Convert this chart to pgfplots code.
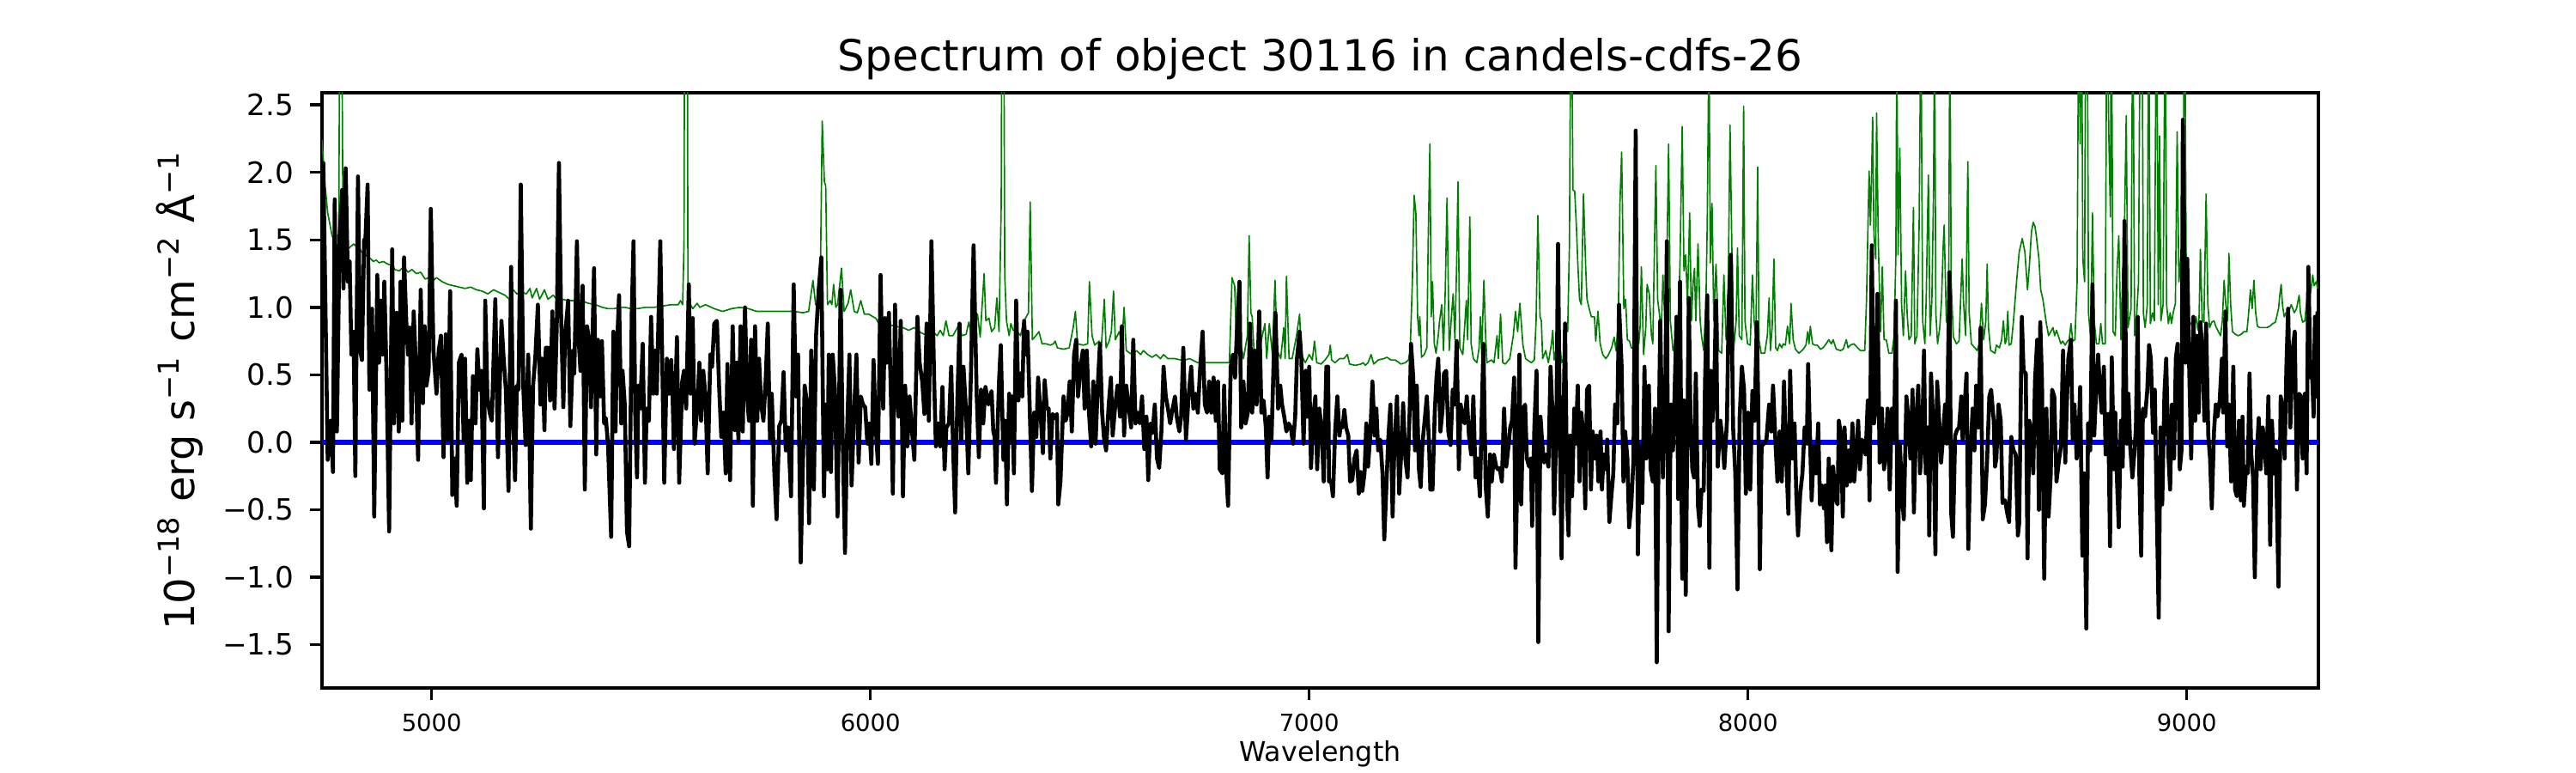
\documentclass[border=0pt]{standalone}
\usepackage{fontspec}
\setmainfont{DejaVu Sans}
\usepackage{pgfplots}
\pgfplotsset{compat=1.18}
\definecolor{mplgreen}{HTML}{008000}
\definecolor{mplblue}{HTML}{0000FF}
\begin{document}
\begin{tikzpicture}
\path[use as bounding box] (0,0) rectangle (720pt,216pt);
\begin{axis}[
  at={(90pt,23.76pt)}, anchor=south west,
  width=558pt, height=166.32pt, scale only axis,
  xmin=4750, xmax=9300, ymin=-1.82, ymax=2.59,
  axis line style={line width=0.8pt},
  tick align=outside, xtick pos=left, ytick pos=left,
  major tick length=3.4pt,
  every tick/.style={line width=0.8pt, black},
  xtick={5000,6000,7000,8000,9000},
  xticklabels={5000,6000,7000,8000,9000},
  ytick={-1.5,-1,-0.5,0,0.5,1,1.5,2,2.5},
  yticklabels={−1.5,−1.0,−0.5,0.0,0.5,1.0,1.5,2.0,2.5},
  xticklabel style={font=\fontsize{6.6}{7}\selectfont, anchor=base, inner sep=0pt, yshift=-8.8pt},
  yticklabel style={font=\fontsize{8.2}{9}\selectfont, anchor=east, inner sep=0pt, xshift=-4.3pt},
  minor tick num=0,
]
\addplot[mplgreen, line width=0.4pt, line join=round] coordinates {
(4750,2.24)(4757,1.90)(4763,1.70)(4773,1.53)(4783,1.46)(4788,1.47)(4791,3.5)(4794,3.8)(4798,1.47)(4802,1.44)(4812,1.44)(4822,1.47)(4832,1.44)(4841,1.41)(4848,1.39)(4861,1.36)(4867,1.34)(4874,1.35)(4880,1.33)(4890,1.34)(4900,1.32)(4910,1.31)(4916,1.28)(4926,1.27)(4936,1.30)(4946,1.26)(4955,1.28)(4965,1.25)(4975,1.26)(4985,1.21)(4995,1.22)(5004,1.20)(5011,1.22)(5024,1.19)(5037,1.17)(5050,1.16)(5063,1.15)(5076,1.14)(5089,1.15)(5102,1.13)(5115,1.12)(5128,1.10)(5141,1.13)(5154,1.11)(5167,1.09)(5177,1.06)(5186,1.13)(5194,1.10)(5207,1.11)(5216,1.10)(5224,1.14)(5229,1.07)(5239,1.14)(5246,1.06)(5257,1.13)(5265,1.06)(5277,1.09)(5285,1.06)(5298,1.06)(5311,1.05)(5324,1.05)(5340,1.05)(5357,1.03)(5373,1.02)(5389,1.00)(5402,0.99)(5415,0.99)(5428,1.00)(5441,1.00)(5454,0.99)(5468,0.99)(5487,1.00)(5507,1.00)
(5526,1.01)(5546,1.02)(5562,1.02)(5567,1.05)(5572,1.02)(5575,1.47)(5577,4.0)(5582,4.0)(5584,1.19)(5588,1.03)(5595,0.99)(5605,1.03)(5611,1.00)(5624,1.02)(5644,0.99)(5663,0.97)(5683,0.99)(5702,1.00)(5722,0.99)(5741,0.97)(5774,0.97)(5807,0.97)(5826,0.97)(5846,0.96)(5859,0.97)(5869,1.20)(5875,1.02)(5885,0.99)(5890,2.38)(5895,1.93)(5898,1.90)(5902,1.02)(5908,1.05)(5912,1.02)(5916,1.17)(5921,1.00)(5925,1.02)(5934,1.29)(5940,0.97)(5949,1.03)(5955,1.13)(5963,0.97)(5970,0.96)(5978,1.05)(5986,0.95)(5996,0.95)(6006,0.93)(6012,0.92)(6019,0.88)(6035,0.88)(6055,0.86)(6074,0.85)(6087,0.83)(6100,0.85)(6110,0.82)(6123,0.80)(6139,0.83)(6152,0.79)(6159,0.83)(6166,0.79)(6172,0.90)(6179,0.79)(6188,0.79)(6203,0.88)(6208,0.79)(6218,0.80)(6224,0.89)(6231,0.78)(6237,0.83)(6244,0.95)(6250,0.78)(6259,1.25)(6263,0.90)(6270,0.92)
(6276,0.82)(6283,0.85)(6288,1.07)(6293,0.82)(6298,1.76)(6300,4.0)(6303,4.0)(6306,1.24)(6310,0.90)(6316,0.79)(6320,0.88)(6325,0.83)(6332,0.83)(6342,0.79)(6348,0.88)(6355,0.93)(6360,0.96)(6364,1.78)(6369,0.76)(6377,0.79)(6384,0.82)(6391,0.73)(6400,0.73)(6410,0.72)(6417,0.73)(6421,0.75)(6426,0.70)(6440,0.69)(6453,0.70)(6462,0.85)(6467,0.97)(6472,0.73)(6485,0.72)(6495,0.73)(6499,1.19)(6505,0.79)(6511,0.72)(6521,0.75)(6526,0.70)(6533,1.06)(6537,0.70)(6544,0.75)(6549,0.82)(6554,1.12)(6558,0.76)(6567,0.82)(6573,0.73)(6578,1.00)(6583,0.68)(6596,0.65)(6606,0.68)(6616,0.65)(6622,0.68)(6632,0.65)(6642,0.63)(6651,0.65)(6661,0.62)(6668,0.65)(6678,0.62)(6694,0.62)(6707,0.61)(6717,0.61)(6727,0.62)(6746,0.59)(6772,0.59)(6792,0.59)(6818,0.59)(6824,1.22)(6830,1.16)(6834,0.76)(6841,0.79)(6850,0.62)(6859,0.79)(6863,1.53)(6867,0.96)(6870,0.93)(6875,0.62)(6883,0.65)(6893,0.79)(6899,0.88)(6903,0.62)(6909,0.88)(6916,0.65)(6922,1.20)(6927,0.68)(6935,0.62)(6942,0.85)(6945,0.62)(6948,1.23)(6954,0.62)(6961,0.62)(6971,0.79)(6978,0.95)(6982,0.65)(6991,0.59)(7000,0.65)(7007,0.61)(7012,0.75)(7017,0.59)(7027,0.58)(7036,0.61)
(7045,0.65)(7048,0.72)(7051,0.61)(7059,0.59)(7069,0.62)(7079,0.62)(7087,0.65)(7092,0.58)(7105,0.57)(7118,0.58)(7123,0.59)(7128,0.57)(7134,0.59)(7141,0.65)(7147,0.58)(7157,0.61)(7170,0.62)(7177,0.63)(7186,0.61)(7196,0.61)(7209,0.58)(7219,0.59)(7226,0.61)(7230,0.68)(7235,1.19)(7239,1.83)(7243,1.70)(7247,0.93)(7250,0.79)(7252,0.93)(7256,0.63)(7262,0.65)(7268,0.70)(7271,1.47)(7275,2.21)(7278,0.93)(7281,1.19)(7285,0.73)(7289,0.66)(7294,0.79)(7297,0.90)(7302,1.02)(7306,0.68)(7310,1.13)(7314,1.81)(7319,0.68)(7324,0.93)(7328,1.10)(7332,0.76)(7336,1.33)(7339,1.93)(7343,0.70)(7350,0.65)(7354,0.85)(7358,1.05)(7361,0.76)(7366,1.67)(7369,0.73)(7374,0.62)(7382,0.59)(7387,0.70)(7390,0.93)(7393,0.65)(7398,1.20)(7402,0.79)(7405,0.59)(7415,0.61)(7421,0.59)(7428,0.79)(7431,0.62)(7436,0.95)(7441,0.59)(7447,0.58)(7457,0.62)(7465,0.79)(7470,0.97)(7475,0.82)(7480,1.03)(7487,0.72)(7493,0.62)(7506,0.59)(7513,0.61)(7517,0.90)(7521,1.68)(7526,0.93)(7529,0.90)(7532,0.62)(7539,0.68)(7545,0.59)(7552,0.73)(7555,0.83)(7558,0.61)(7565,0.73)(7569,0.80)(7575,0.59)(7580,0.62)(7584,0.89)(7589,0.82)(7593,1.47)(7596,3.2)(7598,3.2)(7601,1.87)(7605,1.86)(7609,1.59)(7612,1.33)(7616,1.06)(7620,1.02)(7625,1.84)(7630,1.30)(7633,1.06)(7638,0.99)(7643,0.93)(7650,0.93)(7653,0.75)(7658,0.97)(7663,0.73)(7669,0.65)(7676,0.62)(7682,0.65)(7689,0.70)(7695,0.78)(7699,0.68)(7704,0.85)(7708,1.76)(7712,2.15)(7717,0.99)(7721,1.06)(7725,0.76)(7730,0.75)(7734,0.70)(7739,0.70)(7744,1.05)(7751,0.73)(7754,0.85)(7757,1.30)(7762,0.65)(7767,0.85)(7770,1.17)(7775,1.10)(7780,0.79)(7783,0.73)(7790,2.05)(7794,1.06)(7800,0.90)
(7803,0.90)(7806,1.24)(7811,0.85)(7815,1.33)(7819,2.21)(7823,0.90)(7829,0.68)(7836,0.76)(7841,0.90)(7845,1.33)(7850,2.34)(7854,1.27)(7858,1.39)(7862,1.02)(7867,1.70)(7871,0.90)(7875,1.19)(7878,1.29)(7881,0.90)(7886,1.47)(7891,0.90)(7894,0.79)(7899,0.68)(7904,1.02)(7907,1.61)(7911,3.0)(7914,1.33)(7918,1.77)(7922,0.90)(7927,1.32)(7930,1.05)(7933,0.68)(7940,0.66)(7945,1.24)(7950,0.76)(7954,0.90)(7959,2.35)(7963,1.47)(7967,0.68)(7973,0.90)(7976,1.44)(7980,0.79)(7986,0.76)(7990,2.49)(7993,0.90)(7999,0.73)(8005,0.72)(8010,1.24)(8014,0.90)(8018,0.78)(8022,2.04)(8025,0.76)(8030,0.66)(8038,0.66)(8044,0.79)(8048,1.07)(8051,0.68)(8055,0.85)(8059,1.36)(8063,0.70)(8067,0.68)(8072,0.73)(8077,0.70)(8080,0.73)(8085,0.72)(8090,0.86)(8095,0.73)(8098,1.03)(8103,0.76)(8108,0.69)(8116,0.66)(8126,0.69)(8132,0.72)(8136,0.82)(8139,0.73)(8142,0.86)(8147,0.73)(8152,0.72)(8158,0.72)(8165,0.69)(8171,0.70)(8178,0.73)(8184,0.76)(8190,0.73)(8194,0.76)(8201,0.69)(8211,0.68)(8217,0.69)(8224,0.76)(8228,0.70)(8233,0.72)(8241,0.73)(8250,0.70)(8256,0.68)(8266,0.68)(8270,1.05)(8274,1.70)(8276,2.01)(8279,1.61)(8282,2.04)(8284,2.41)(8287,1.53)(8291,1.36)(8293,2.44)(8297,1.47)(8302,0.82)(8306,1.30)(8310,0.76)(8315,0.76)(8321,0.66)(8328,0.66)(8333,0.79)(8337,1.39)(8339,3.0)(8342,1.39)(8346,2.18)(8350,1.02)(8354,0.79)(8359,1.27)(8363,0.93)(8367,0.76)(8372,0.79)(8377,1.74)(8380,0.73)(8385,0.79)(8390,1.61)(8394,3.2)(8398,0.90)(8403,0.73)(8406,1.05)(8411,1.98)(8415,0.79)(8419,1.05)(8423,1.90)(8425,3.2)(8428,0.96)(8432,0.73)(8437,0.85)(8441,1.05)(8445,1.47)(8447,1.61)(8452,0.90)(8457,0.85)(8460,3.2)(8463,1.19)(8468,0.78)(8475,0.73)(8481,0.75)(8488,1.36)(8491,1.05)(8496,0.79)(8501,2.08)(8504,0.96)(8509,0.73)(8517,0.70)(8522,0.68)(8527,0.73)(8532,1.03)(8537,0.76)(8542,0.90)(8545,1.32)(8548,0.85)(8553,0.68)(8563,0.66)
(8566,0.72)(8573,0.70)(8578,0.76)(8582,0.90)(8586,0.73)(8589,0.76)(8592,0.97)(8595,0.72)(8600,0.73)(8605,0.90)(8612,1.19)(8618,1.41)(8625,1.51)(8631,1.41)(8637,1.13)(8641,1.30)(8646,1.56)(8650,1.63)(8654,1.60)(8657,1.53)(8663,1.36)(8667,1.13)(8672,1.06)(8676,0.97)(8680,0.88)(8685,0.79)(8690,0.82)(8695,0.85)(8699,0.79)(8703,0.83)(8708,0.78)(8713,0.73)(8717,0.75)(8723,0.72)(8728,0.75)(8732,0.76)(8736,0.88)(8740,0.75)(8745,0.76)(8750,1.19)(8754,3.5)(8757,2.21)(8760,3.5)(8763,1.36)(8767,1.19)(8770,3.5)(8773,3.5)(8776,0.96)(8781,0.76)(8785,1.70)(8789,0.90)(8794,0.73)(8800,0.73)(8804,0.88)(8808,0.73)(8814,0.73)(8818,3.5)(8822,2.32)(8826,1.67)(8828,3.5)(8832,0.82)(8837,0.79)(8841,1.27)(8845,1.53)(8850,0.76)(8854,1.27)(8857,1.41)(8862,2.42)(8866,0.85)(8873,0.99)(8877,3.5)(8881,0.79)(8886,0.96)(8890,1.19)(8894,3.5)(8898,3.5)(8901,0.96)(8905,0.85)(8910,1.02)(8913,3.5)(8917,0.88)(8922,0.96)(8926,0.90)(8931,3.5)(8935,1.02)(8938,2.27)(8941,0.90)(8946,1.02)(8951,3.5)(8954,1.02)(8958,0.88)(8962,0.96)(8965,0.88)(8969,0.96)(8974,1.03)(8978,2.30)(8982,1.19)(8987,1.39)(8991,1.47)(8995,3.5)(8999,1.02)(9003,0.90)(9010,0.88)(9016,0.83)(9021,0.93)(9025,0.83)(9028,0.93)(9031,1.43)(9035,0.90)(9039,0.89)(9044,1.84)(9048,1.02)(9052,0.85)(9057,0.89)(9062,0.90)(9066,0.86)(9072,0.82)(9077,0.79)(9081,0.90)(9085,1.20)(9089,1.02)(9093,0.90)(9096,1.40)(9100,1.02)(9104,0.82)(9111,0.80)(9117,0.79)(9124,0.80)(9130,0.82)(9137,0.82)(9141,0.96)(9145,1.13)(9149,0.99)(9153,1.20)(9157,0.96)(9161,0.86)(9166,0.85)(9176,0.85)(9183,0.85)(9189,0.86)(9196,0.88)(9202,0.89)(9209,0.99)(9212,1.09)(9215,1.17)(9218,1.02)(9222,0.93)(9226,0.96)(9231,0.96)(9238,1.02)(9245,0.96)(9250,0.99)(9256,1.09)(9259,0.96)(9264,0.89)(9269,0.90)(9274,1.07)(9280,1.05)(9287,1.24)(9290,1.16)(9295,1.19)(9298,1.14)
};
\addplot[mplblue, line width=1.5pt] coordinates {(4750,0)(9300,0)};
\addplot[black, line width=1.1pt, line join=round] coordinates {
(4750,1.95)(4753,2.07)(4763,-0.13)(4770,0.16)(4775,-0.22)(4779,1.80)(4784,0.08)(4790,1.53)(4796,1.87)(4799,1.14)(4804,2.03)(4809,1.19)(4813,1.34)(4817,0.65)(4822,0.82)(4826,-0.25)(4832,1.97)(4837,0.68)(4841,0.61)(4846,1.50)(4849,1.51)(4854,1.91)(4858,0.39)(4864,0.99)(4869,-0.55)(4876,1.24)(4880,0.59)(4884,1.05)(4888,0.65)(4892,1.19)(4897,0.51)(4903,-0.66)(4910,1.43)(4914,0.14)(4920,0.96)(4925,0.08)(4929,1.19)(4933,0.16)(4937,1.37)(4942,0.90)(4946,0.65)(4950,0.85)(4954,0.14)(4959,0.97)(4963,0.65)(4969,-0.13)(4975,1.13)(4980,0.29)(4984,0.86)(4988,0.42)(4993,0.53)(4998,1.73)(5004,0.68)(5011,0.36)(5016,0.68)(5021,0.79)(5027,-0.11)(5032,0.80)(5037,0.02)(5042,1.12)(5047,-0.39)(5052,-0.12)(5057,-0.47)(5062,0.59)(5068,0.65)(5073,0.01)(5076,0.62)(5081,-0.30)(5085,0.16)(5089,-0.28)(5094,0.49)(5100,0.14)(5104,0.69)(5109,0.39)(5113,0.53)(5119,-0.49)(5122,1.05)(5127,0.34)(5132,0.22)(5137,0.16)(5145,1.06)(5151,-0.11)(5159,0.90)(5164,0.62)(5169,0.39)(5175,-0.36)(5181,1.30)(5185,0.25)(5190,-0.28)(5194,0.42)(5198,0.39)(5203,1.91)(5209,0.39)(5214,-0.02)(5220,0.65)(5226,-0.64)(5231,0.42)(5236,0.62)(5242,1.02)(5248,0.28)(5252,0.62)(5257,0.09)(5260,0.70)(5265,0.70)(5270,0.31)(5275,0.97)(5280,0.25)(5285,0.85)(5290,2.07)(5295,0.93)(5300,0.26)(5304,0.79)(5311,1.05)(5316,0.12)(5322,0.68)(5325,0.51)(5331,1.49)(5335,0.76)(5339,0.53)(5344,1.16)(5349,-0.35)(5354,0.86)(5359,0.75)(5363,0.26)(5370,1.29)(5375,-0.09)(5379,0.76)(5384,0.34)(5388,0.75)(5393,0.14)(5397,0.18)(5402,-0.03)(5409,-0.70)(5414,0.82)(5419,0.08)(5422,0.68)(5427,1.09)(5432,0.14)(5435,0.53)(5440,0.28)(5445,-0.66)(5450,-0.77)(5456,0.96)(5460,1.49)(5464,0.16)(5468,-0.26)(5471,0.42)(5475,0.25)(5481,0.73)(5486,-0.30)(5490,0.25)(5495,0.16)(5500,0.93)(5505,0.36)(5510,0.68)
(5513,0.36)(5521,1.49)(5530,-0.30)(5536,0.62)(5541,0.36)(5546,0.61)(5549,0.34)(5552,-0.05)(5559,0.78)(5564,-0.30)(5571,0.45)(5575,0.53)(5580,0.25)(5586,1.17)(5590,0.36)(5595,0.92)(5599,-0.01)(5605,0.25)(5610,0.59)(5614,0.16)(5619,0.53)(5624,0.34)(5629,-0.23)(5635,0.65)(5639,0.56)(5644,0.88)(5650,0.90)(5655,0.42)(5660,0.04)(5665,0.22)(5670,-0.23)(5674,0.58)(5680,-0.28)(5686,0.86)(5691,0.09)(5695,0.59)(5699,0.01)(5704,0.86)(5709,0.08)(5714,1.00)(5719,0.34)(5723,0.16)(5728,0.76)(5732,-0.47)(5737,0.86)(5742,0.16)(5746,0.62)(5751,0.28)(5756,0.16)(5761,0.45)(5766,0.88)(5771,0.02)(5775,0.36)(5781,-0.23)(5786,-0.57)(5792,0.12)(5797,0.16)(5802,0.52)(5807,-0.06)(5812,0.11)(5819,-0.40)(5825,1.17)(5830,0.34)(5835,0.65)(5841,-0.89)(5846,-0.16)(5850,0.42)(5856,0.28)(5860,-0.60)(5865,0.68)(5871,-0.35)(5876,0.79)(5882,1.13)(5888,1.37)(5894,-0.40)(5898,0.28)(5902,-0.20)(5905,0.65)(5910,-0.22)(5914,0.65)(5919,0.39)(5925,-0.55)(5932,1.13)(5936,0.16)(5942,-0.82)(5947,0.11)(5952,0.65)(5957,-0.32)(5962,0.16)(5968,0.65)(5973,-0.15)(5978,0.34)(5983,0.28)(5988,0.26)(5993,-0.01)(5997,0.14)(6002,-0.16)(6007,0.61)(6012,0.11)(6017,-0.16)(6023,1.24)(6029,0.25)(6033,0.92)(6037,0.59)(6042,0.96)(6047,0.28)(6051,-0.38)(6056,1.02)(6060,0.36)(6064,0.19)(6069,0.90)(6074,-0.40)(6079,0.42)(6084,-0.03)(6089,0.34)(6094,0.11)(6100,-0.13)(6107,0.93)(6112,0.59)(6118,0.45)(6123,0.21)(6128,0.88)(6133,0.16)(6139,1.49)(6145,0.48)(6149,-0.03)(6154,0.14)(6159,-0.03)(6164,0.41)(6169,-0.20)(6173,0.11)(6179,0.14)(6184,0.56)(6188,-0.01)(6193,-0.52)(6198,0.31)(6203,0.88)(6207,0.02)(6212,0.56)(6218,0.22)(6223,-0.23)(6229,0.51)(6235,1.46)(6242,0.36)(6247,-0.11)(6252,0.39)(6257,0.14)(6262,0.41)(6269,0.28)
(6276,0.38)(6280,0.08)(6283,0.04)(6286,-0.30)(6293,0.45)(6297,0.72)(6303,-0.13)(6307,0.16)(6311,-0.46)(6316,0.36)(6319,0.02)(6322,0.34)(6327,-0.23)(6332,1.05)(6337,0.31)(6342,0.51)(6346,0.34)(6350,0.90)(6355,0.65)(6358,0.82)(6363,0.25)(6368,-0.36)(6373,0.22)(6378,0.04)(6382,0.48)(6387,0.25)(6393,-0.08)(6397,0.46)(6402,0.25)(6406,0.25)(6410,-0.12)(6415,0.21)(6420,0.18)(6425,0.21)(6428,-0.46)(6433,-0.29)(6440,0.34)(6445,0.16)(6449,0.22)(6454,0.45)(6459,0.08)(6464,0.65)(6469,0.76)(6473,0.34)(6479,0.56)(6484,0.68)(6488,0.25)(6493,0.68)(6498,0.22)(6503,-0.03)(6508,0.45)(6513,-0.01)(6518,0.42)(6523,0.73)(6528,0.22)(6532,0.04)(6537,-0.06)(6543,0.28)(6548,0.48)(6552,0.05)(6558,0.28)(6563,0.42)(6569,0.19)(6573,0.86)(6578,0.05)(6583,0.42)(6588,0.28)(6594,0.11)(6599,0.76)(6604,0.14)(6609,0.22)(6614,0.14)(6619,0.34)(6624,-0.05)(6629,0.19)(6633,-0.28)(6638,0.14)(6643,0.07)(6648,0.28)(6653,-0.12)(6658,-0.19)(6663,0.08)(6668,0.56)(6673,0.34)(6678,0.25)(6683,0.14)(6687,0.22)(6694,0.34)(6698,0.19)(6704,0.08)(6708,0.19)(6713,0.70)(6719,0.02)(6725,0.34)(6731,0.56)(6736,0.25)(6741,0.36)(6746,0.22)(6751,0.53)(6757,0.82)(6762,0.28)(6767,0.22)(6772,0.45)(6777,0.22)(6782,0.48)(6787,0.16)(6792,0.45)(6796,-0.20)(6802,-0.23)(6806,0.42)(6811,-0.23)(6815,-0.47)(6821,0.56)(6826,0.65)(6831,0.48)(6836,0.90)(6841,1.19)(6845,0.11)(6850,0.45)(6855,0.14)(6860,0.22)(6865,0.88)(6870,0.22)(6875,0.68)(6880,0.28)(6886,0.97)(6891,0.22)(6896,0.31)(6901,0.11)(6905,-0.26)(6909,0.19)(6914,0.02)(6919,0.62)(6923,0.96)(6929,0.25)(6934,0.42)(6938,0.28)(6943,0.19)(6948,0.08)(6953,0.14)(6958,0.11)(6963,-0.01)(6968,0.19)(6972,0.62)(6978,0.82)(6982,0.62)(6987,-0.01)(6992,0.53)(6996,0.19)(7000,0.56)(7004,-0.19)(7009,0.19)(7014,0.34)(7018,-0.20)(7023,0.25)(7028,0.11)(7033,-0.29)(7039,0.56)
(7043,0.56)(7045,-0.29)(7050,-0.29)(7054,-0.40)(7059,0.08)(7064,0.34)(7069,0.05)(7072,0.14)(7076,0.11)(7080,0.24)(7084,0.11)(7089,0.05)(7093,-0.29)(7098,-0.28)(7103,-0.12)(7108,-0.06)(7113,-0.38)(7117,-0.22)(7121,-0.36)(7126,-0.23)(7130,0.14)(7134,-0.18)(7139,0.05)(7144,0.45)(7149,0.05)(7153,0.25)(7157,-0.06)(7162,0.02)(7167,-0.23)(7171,-0.72)(7177,-0.23)(7180,0.02)(7185,0.28)(7190,-0.55)(7194,-0.03)(7200,0.34)(7205,-0.38)(7209,-0.12)(7214,0.29)(7219,-0.12)(7224,-0.26)(7229,0.25)(7232,0.73)(7237,0.48)(7241,-0.06)(7245,0.42)(7250,-0.20)(7254,-0.33)(7258,-0.01)(7263,0.16)(7268,0.34)(7273,-0.01)(7276,-0.35)(7281,-0.35)(7286,0.22)(7290,0.48)(7294,0.62)(7299,0.08)(7304,0.25)(7307,0.51)(7312,0.53)(7317,0.08)(7322,-0.02)(7327,0.39)(7331,0.28)(7336,0.75)(7341,-0.20)(7345,0.28)(7350,0.19)(7354,0.14)(7359,0.34)(7364,0.05)(7369,-0.09)(7374,0.34)(7379,-0.26)(7383,-0.12)(7389,-0.40)(7393,0.19)(7397,0.73)(7402,-0.32)(7407,-0.55)(7412,-0.09)(7416,-0.29)(7421,-0.09)(7426,-0.18)(7430,-0.20)(7434,-0.19)(7439,-0.29)(7444,0.25)(7449,-0.18)(7454,-0.03)(7458,0.11)(7462,0.16)(7467,0.48)(7470,-0.93)(7475,-0.12)(7479,0.65)(7483,-0.46)(7488,0.25)(7492,0.28)(7496,-0.12)(7501,-0.18)(7505,-0.12)(7508,-0.62)(7513,0.11)(7518,0.53)(7522,-1.48)(7527,0.19)(7531,-0.01)(7535,-0.15)(7540,-0.09)(7545,-0.18)(7550,0.56)(7554,0.25)(7558,-0.53)(7563,0.05)(7567,1.47)(7571,0.14)(7575,-0.86)(7579,0.08)(7583,0.88)(7588,-0.46)(7591,-0.69)(7595,0.05)(7599,-0.40)(7604,0.25)(7607,-0.01)(7612,0.42)(7616,-0.29)(7620,0.22)(7625,0.05)(7629,-0.49)(7633,0.39)(7638,0.42)(7642,-0.35)(7646,0.08)(7651,-0.12)(7655,0.05)(7659,-0.29)(7664,0.08)(7667,-0.35)(7671,-0.09)(7676,-0.20)(7679,0.02)(7684,-0.59)(7689,-0.38)(7693,-0.23)(7697,0.28)(7702,0.14)(7706,1.02)(7712,0.56)(7716,-0.29)(7720,0.08)(7725,-0.12)(7729,-0.63)(7734,-0.46)(7739,-0.12)(7744,2.31)(7749,-0.83)(7754,-0.03)(7759,-0.45)(7764,0.56)(7768,-0.12)(7774,0.42)(7778,-0.20)(7783,-0.29)(7788,0.25)(7792,-1.63)(7796,-0.09)(7800,0.90)
(7806,-0.26)(7811,0.28)(7815,1.49)(7819,-1.40)(7824,0.28)(7829,-0.06)(7832,0.28)(7837,0.93)(7841,-0.42)(7845,1.19)(7850,-1.01)(7854,0.31)(7858,-1.13)(7865,1.07)(7869,0.16)(7873,-0.20)(7877,-0.26)(7881,0.51)(7886,-0.47)(7890,-0.62)(7894,-0.35)(7899,-0.36)(7902,0.45)(7907,1.09)(7912,-0.93)(7915,0.53)(7919,0.16)(7924,0.56)(7927,1.05)(7931,-0.18)(7937,0.16)(7941,0.05)(7946,-0.19)(7952,0.16)(7956,1.02)(7961,1.39)(7966,0.11)(7971,-0.23)(7976,-1.09)(7981,0.19)(7986,0.56)(7991,0.39)(7995,-0.38)(8000,0.22)(8005,-0.35)(8010,0.38)(8015,0.16)(8020,0.89)(8023,0.34)(8027,-0.94)(8031,-0.03)(8036,-0.01)(8042,0.02)(8048,0.28)(8053,0.08)(8057,0.42)(8063,-0.03)(8067,-0.29)(8072,0.08)(8077,-0.29)(8082,0.45)(8087,-0.12)(8092,-0.53)(8096,0.53)(8101,-0.12)(8106,0.14)(8110,-0.38)(8114,-0.69)(8119,-0.38)(8124,-0.23)(8129,0.11)(8134,-0.01)(8137,0.58)(8141,0.08)(8145,-0.43)(8150,-0.03)(8155,-0.23)(8160,0.14)(8164,-0.46)(8168,-0.32)(8173,-0.49)(8176,-0.32)(8180,-0.74)(8184,-0.12)(8190,-0.80)(8194,-0.18)(8199,-0.40)(8204,-0.46)(8207,0.16)(8212,0.05)(8216,-0.55)(8220,0.11)(8225,-0.32)(8230,-0.06)(8233,-0.29)(8238,0.14)(8242,-0.29)(8246,-0.12)(8251,0.16)(8255,-0.20)(8260,0.02)(8264,-0.03)(8268,-0.09)(8273,0.31)(8277,-0.43)(8282,1.46)(8287,0.14)(8292,0.28)(8295,1.10)(8300,-0.15)(8305,0.25)(8310,-0.20)(8314,-0.06)(8318,0.25)(8323,-0.35)(8328,0.25)(8333,0.02)(8337,1.05)(8341,-0.96)(8346,-0.01)(8351,-0.38)(8355,-0.57)(8361,0.34)(8365,0.19)(8370,-0.12)(8375,0.39)(8378,-0.52)(8383,0.14)(8388,0.42)(8392,-0.23)(8397,0.02)(8401,0.68)(8405,-0.23)(8410,0.11)(8413,-0.69)(8417,0.51)(8423,0.08)(8427,-0.83)(8431,0.45)(8436,0.14)(8440,-0.15)(8444,0.02)(8449,0.28)(8453,-0.01)(8459,1.26)(8463,-0.52)(8467,-0.70)(8472,0.05)(8476,0.09)(8481,0.11)(8486,0.34)(8489,0.02)(8493,0.24)(8498,0.51)(8502,-0.79)(8507,-0.06)(8512,0.25)(8516,-0.06)(8520,0.42)(8525,0.11)(8530,0.85)(8535,-0.57)(8540,-0.46)(8545,-0.12)(8550,0.34)(8554,0.39)(8560,0.16)(8563,-0.18)
(8566,-0.12)(8571,0.28)(8576,0.16)(8580,-0.45)(8586,-0.43)(8591,-0.53)(8595,-0.59)(8600,0.04)(8605,-0.06)(8610,-0.09)(8615,-0.69)(8618,-0.60)(8624,0.93)(8628,0.53)(8633,0.51)(8637,-0.86)(8641,0.16)(8646,0.05)(8650,-0.23)(8654,0.45)(8659,0.76)(8663,-0.50)(8666,0.89)(8670,0.45)(8675,-1.01)(8680,0.25)(8685,-0.55)(8690,-0.23)(8693,0.39)(8698,0.34)(8703,-0.29)(8708,-0.15)(8713,-0.03)(8718,0.68)(8723,-0.15)(8726,0.22)(8730,0.62)(8736,0.76)(8740,0.02)(8744,0.28)(8749,-0.12)(8753,-0.01)(8757,0.41)(8762,-0.84)(8766,-0.23)(8771,-1.38)(8775,0.14)(8780,-0.06)(8785,1.17)(8789,0.05)(8793,0.36)(8798,0.65)(8802,0.39)(8806,0.22)(8811,0.56)(8815,-0.09)(8821,0.21)(8825,-0.77)(8829,0.63)(8834,-0.20)(8837,0.22)(8841,-0.29)(8845,-0.63)(8850,0.16)(8854,-0.18)(8858,1.64)(8863,-0.01)(8867,0.36)(8871,-0.03)(8876,-0.26)(8881,-0.06)(8884,0.11)(8888,0.93)(8892,-0.26)(8896,-0.84)(8900,0.25)(8905,0.19)(8910,0.39)(8914,0.72)(8918,0.62)(8923,0.07)(8927,0.39)(8931,-0.40)(8936,-1.30)(8940,0.11)(8944,-0.46)(8949,0.36)(8953,0.62)(8958,-0.09)(8962,-0.35)(8966,0.28)(8971,-0.12)(8975,0.62)(8979,0.73)(8984,-0.20)(8988,-0.06)(8991,2.39)(8997,0.59)(9001,1.36)(9005,0.62)(9010,-0.12)(9015,0.93)(9019,0.16)(9023,0.79)(9027,0.22)(9031,0.89)(9036,0.65)(9040,0.16)(9044,0.88)(9049,0.05)(9053,-0.12)(9057,-0.49)(9062,0.08)(9066,0.28)(9070,0.19)(9075,0.31)(9080,0.62)(9083,0.22)(9088,0.97)(9092,-0.03)(9096,0.28)(9101,-0.29)(9106,0.56)(9110,-0.35)(9114,-0.40)(9119,0.16)(9123,-0.43)(9127,0.19)(9130,-0.47)(9135,-0.18)(9139,-0.23)(9143,0.51)(9147,-0.09)(9151,-0.26)(9155,-1.00)(9160,-0.06)(9164,0.18)(9168,-0.20)(9173,0.11)(9177,-0.01)(9181,-0.23)(9186,0.34)(9190,-0.76)(9194,0.16)(9199,-0.23)(9203,-0.06)(9209,-1.07)(9214,0.34)(9218,0.25)(9223,-0.12)(9227,0.56)(9231,0.99)(9236,0.11)(9241,0.68)(9246,0.82)(9251,-0.35)(9256,0.36)(9260,0.34)(9264,-0.12)(9269,0.36)(9273,-0.23)(9277,1.30)(9282,0.48)(9285,0.56)(9289,0.19)(9292,0.93)(9295,0.34)(9298,0.97)
};
\end{axis}
\node[anchor=base, font=\fontsize{12}{14}\selectfont] at (369pt,196.08pt) {Spectrum of object 30116 in candels-cdfs-26};
\node[anchor=base, font=\fontsize{7.6}{9}\selectfont] at (369pt,3.2pt) {Wavelength};
\node[rotate=90, anchor=base, font=\fontsize{11.5}{14}\selectfont] at (54.3pt,107pt) {10\textsuperscript{−18} erg s\textsuperscript{−1} cm\textsuperscript{−2} Å\textsuperscript{−1}};
\end{tikzpicture}
\end{document}
